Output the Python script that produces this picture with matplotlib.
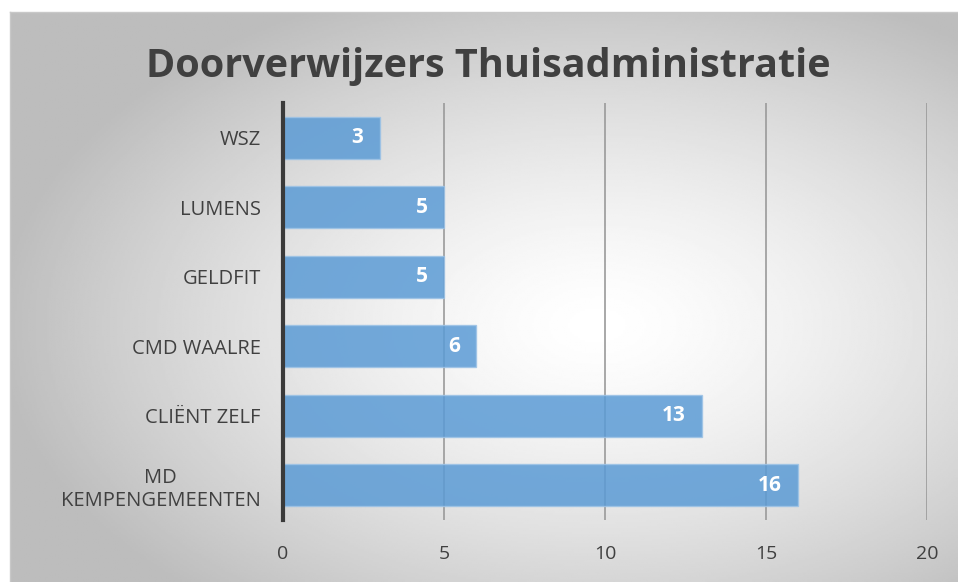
import numpy as np
import matplotlib.pyplot as plt

categories = ['MD\nKEMPENGEMEENTEN', 'CLIËNT ZELF', 'CMD WAALRE', 'GELDFIT', 'LUMENS', 'WSZ']
values = [16, 13, 6, 5, 5, 3]
xticks = [0, 5, 10, 15, 20]

plt.rcParams['font.family'] = ['Open Sans', 'DejaVu Sans']

fig = plt.figure(figsize=(9.58, 5.82), dpi=100)
fig.patch.set_facecolor('white')

# achtergrond met radiaal verloop
bg = fig.add_axes([10 / 958, 0, 948 / 958, 570 / 582])
yy, xx = np.mgrid[0:1:300j, 0:1:500j]
r = np.sqrt(((xx - 0.62) / 0.8) ** 2 + ((yy - 0.55) / 0.8) ** 2)
shade = np.clip(1 - 0.36 * r ** 1.4, 0.74, 1)
bg.imshow(shade, cmap='gray', vmin=0, vmax=1, aspect='auto', extent=[0, 1, 0, 1])
bg.set_xticks([])
bg.set_yticks([])
for s in bg.spines.values():
    s.set_color('#c8c8c8')
    s.set_linewidth(1)
bg.spines['bottom'].set_visible(False)
bg.spines['right'].set_visible(False)

ax = fig.add_axes([283 / 958, 62 / 582, 644 / 958, 417 / 582])
ax.patch.set_alpha(0)
ypos = np.arange(len(categories))
ax.set_axisbelow(True)
ax.grid(axis='x', color='#9a9a9a', linewidth=1.2)
bars = ax.barh(ypos, values, height=0.6, color='#5b9bd5', alpha=0.85,
               edgecolor='#9dc3e6', linewidth=1)
for b, v in zip(bars, values):
    ax.text(v - 0.5, b.get_y() + b.get_height() / 2, str(v), ha='right', va='center',
            color='white', fontsize=15, fontweight='bold')

ax.set_xlim(0, 20)
ax.set_ylim(-0.5, 5.5)
ax.set_xticks(xticks)
ax.set_yticks(ypos)
ax.set_yticklabels(categories, fontsize=14.5, color='#404040', ha='right',
                   multialignment='center')
ax.tick_params(axis='y', length=0, pad=16)
ax.tick_params(axis='x', length=0, labelsize=14, labelcolor='#404040', pad=18)
for s in ['top', 'right', 'bottom']:
    ax.spines[s].set_visible(False)
ax.spines['left'].set_color('#3a3a3a')
ax.spines['left'].set_linewidth(3)

fig.text(0.51, 0.885, 'Doorverwijzers Thuisadministratie', ha='center', va='center',
         fontsize=28.5, fontweight='bold', color='#404040')

fig.savefig('out.png', dpi=100)
